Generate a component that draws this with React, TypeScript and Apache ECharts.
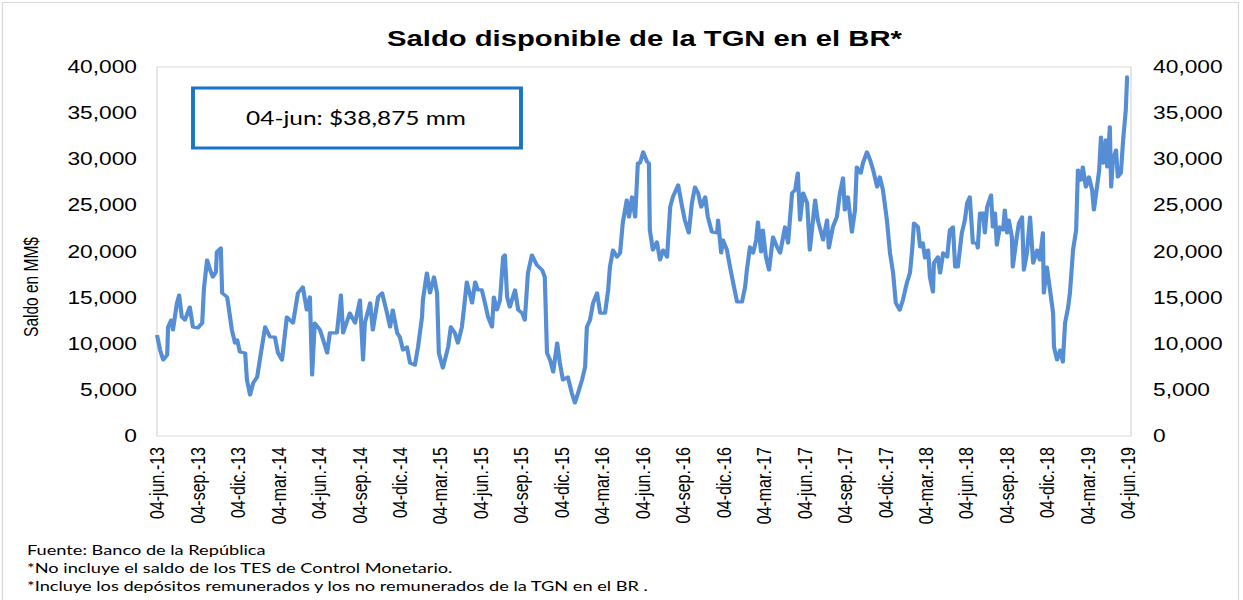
import React, { useEffect, useRef } from "react";
import * as echarts from "echarts";

// ---------- data ----------
const START_DATE = "2013-06-04"; // day 0 of dayOffsets
const TOTAL_DAYS = 2191; // 2013-06-04 .. 2019-06-04

const quarterLabels = [
  "04-jun.-13", "04-sep.-13", "04-dic.-13", "04-mar.-14", "04-jun.-14",
  "04-sep.-14", "04-dic.-14", "04-mar.-15", "04-jun.-15", "04-sep.-15",
  "04-dic.-15", "04-mar.-16", "04-jun.-16", "04-sep.-16", "04-dic.-16",
  "04-mar.-17", "04-jun.-17", "04-sep.-17", "04-dic.-17", "04-mar.-18",
  "04-jun.-18", "04-sep.-18", "04-dic.-18", "04-mar.-19", "04-jun.-19",
];

const dayOffsets = [
  0, 7, 14, 23, 25, 32, 36, 45, 50, 56, 63, 74, 81, 92, 102, 106, 113, 120, 126, 133,
  135, 144, 147, 158, 160, 169, 176, 181, 187, 199, 203, 210, 217, 226, 232, 244, 255, 266, 273, 282,
  293, 307, 318, 329, 338, 345, 350, 356, 368, 375, 384, 390, 406, 415, 420, 435, 447, 458, 465, 469,
  481, 487, 499, 508, 519, 526, 532, 542, 548, 555, 564, 571, 582, 589, 598, 600, 609, 616, 625, 632,
  636, 645, 657, 663, 672, 679, 688, 693, 699, 711, 718, 724, 733, 740, 747, 756, 760, 767, 774, 781,
  785, 790, 796, 808, 815, 824, 830, 837, 846, 857, 869, 875, 880, 887, 894, 903, 909, 916, 927, 936,
  943, 950, 959, 966, 970, 977, 984, 993, 1000, 1011, 1018, 1022, 1029, 1038, 1045, 1051, 1060, 1065, 1072, 1079,
  1085, 1090, 1097, 1106, 1110, 1112, 1119, 1128, 1135, 1142, 1151, 1158, 1164, 1176, 1185, 1191, 1200, 1207, 1214, 1221,
  1228, 1237, 1243, 1252, 1264, 1266, 1273, 1277, 1286, 1293, 1302, 1309, 1320, 1327, 1331, 1338, 1345, 1352, 1356, 1363,
  1367, 1374, 1381, 1390, 1399, 1406, 1417, 1424, 1433, 1440, 1446, 1451, 1458, 1467, 1473, 1485, 1491, 1503, 1512, 1516,
  1525, 1534, 1541, 1548, 1552, 1559, 1568, 1575, 1579, 1588, 1593, 1602, 1609, 1616, 1625, 1631, 1638, 1647, 1654, 1661,
  1667, 1676, 1683, 1692, 1699, 1704, 1708, 1717, 1722, 1728, 1733, 1740, 1744, 1751, 1753, 1762, 1767, 1774, 1783, 1789,
  1796, 1801, 1807, 1816, 1823, 1828, 1834, 1841, 1850, 1852, 1857, 1864, 1868, 1873, 1882, 1886, 1891, 1895, 1902, 1909,
  1913, 1918, 1922, 1929, 1931, 1940, 1945, 1952, 1956, 1963, 1970, 1977, 1986, 1992, 1999, 2001, 2008, 2015, 2022, 2024,
  2031, 2038, 2044, 2049, 2056, 2060, 2067, 2074, 2078, 2085, 2089, 2096, 2103, 2110, 2114, 2121, 2126, 2130, 2135, 2141,
  2144, 2150, 2153, 2157, 2164, 2168, 2175, 2180, 2186, 2189, 2191,
];

const saldo = [
  10950, 9320, 8240, 8780, 11820, 12570, 11490, 14420, 15280, 12900, 12570, 13980, 11820, 11710, 12250, 16040, 19080, 17990, 17240, 17780,
  19950, 20380, 15500, 15070, 14530, 11490, 10080, 10410, 9110, 9000, 6070, 4440, 5750, 6400, 8240, 11820, 10730, 10730, 9000, 8240,
  12900, 12250, 15500, 16150, 13660, 15070, 6610, 12250, 11490, 10410, 9000, 11170, 11170, 15280, 11170, 13330, 12250, 14740, 8240, 12250,
  14420, 11490, 15070, 15500, 13330, 11820, 13660, 11170, 10730, 9320, 9650, 7910, 7700, 9650, 12900, 14740, 17670, 15500, 17240, 15500,
  9000, 7370, 9650, 11820, 11170, 10080, 11820, 13980, 16690, 14420, 16690, 15830, 15830, 14420, 12900, 11820, 15070, 13660, 14740, 19400,
  19620, 15070, 13980, 15830, 13660, 13330, 12570, 17670, 19620, 18540, 17990, 17240, 9000, 8240, 6940, 10080, 7910, 6070, 6400, 4660,
  3580, 4660, 6070, 7480, 11820, 12570, 14420, 15500, 13330, 13330, 15830, 18320, 20160, 19400, 19840, 23090, 25580, 23740, 25910, 23740,
  29590, 29590, 30790, 29700, 29590, 22330, 20160, 21030, 19080, 20160, 19400, 24820, 25910, 27210, 24820, 23410, 22010, 25260, 26990, 26340,
  24820, 25910, 23740, 22110, 22010, 23410, 19840, 21250, 20160, 18320, 16150, 14530, 14530, 16150, 17990, 20490, 19840, 21250, 23200, 19950,
  22330, 19400, 17990, 21570, 20490, 19840, 22660, 20920, 26340, 26670, 28510, 23410, 26340, 25260, 20160, 25580, 23410, 21250, 23410, 20380,
  22660, 23740, 26340, 27970, 24500, 25910, 22110, 24500, 29160, 28510, 29590, 30790, 29920, 28830, 26990, 28080, 26670, 23410, 19840, 17670,
  14420, 13660, 14740, 16590, 17670, 20160, 23090, 22660, 20490, 20920, 19300, 20160, 17240, 15610, 18750, 19400, 17670, 19840, 19400, 22330,
  22660, 18320, 18320, 22010, 23410, 25260, 25910, 20920, 20920, 20380, 24170, 24170, 22010, 24820, 26120, 22660, 24170, 20700, 22660, 22330,
  24500, 22010, 23410, 21570, 18320, 21570, 23090, 23740, 17990, 19840, 23740, 18750, 20160, 19080, 22010, 15500, 18320, 15830, 13330, 9650,
  8240, 9320, 8020, 12250, 13980, 15500, 20160, 22330, 28830, 27750, 29160, 26990, 28080, 26670, 24500, 26990, 28830, 32410, 29590, 32090,
  29160, 33500, 26990, 29920, 31000, 28080, 28510, 32090, 35340, 38920, 38875,
];

const yMin = 0;
const yMax = 40000;
const yStep = 5000;

const chartTitle = "Saldo disponible de la TGN en el BR*";
const yAxisTitle = "Saldo en MM$";
const calloutText = "04-jun: $38,875 mm";
const footnotes = [
  "Fuente: Banco de la República",
  "*No incluye el saldo de los TES de Control Monetario.",
  "*Incluye los depósitos remunerados y los no remunerados de la TGN en el BR .",
];

// ---------- layout ----------
const SX = 1.3; // the reference is rendered horizontally stretched
const W = 1243 / SX;
const H = 600;
const px = (x: number) => x / SX;

const ARIAL = "'Liberation Sans', Arial, sans-serif";
const CALIBRI = "Lato, 'Open Sans', sans-serif";

const fmt = (v: number) => v.toLocaleString("en-US");

export default function App() {
  const ref = useRef<HTMLDivElement>(null);

  useEffect(() => {
    if (!ref.current) return;
    const chart = echarts.init(ref.current, undefined, { renderer: "svg" });
    const step = TOTAL_DAYS / (quarterLabels.length - 1);
    const plotLeft = 157;
    const plotRight = 1131;
    const lastTickX = 1128;
    const xMax = ((plotRight - plotLeft) / (lastTickX - plotLeft)) * TOTAL_DAYS;

    const yAxisCommon = {
      type: "value" as const,
      min: yMin,
      max: yMax,
      interval: yStep,
      axisLine: { show: false },
      axisTick: { show: false },
      splitLine: { show: false },
    };

    chart.setOption({
      animation: false,
      backgroundColor: "#ffffff",
      grid: {
        left: px(plotLeft),
        top: 67,
        width: px(plotRight - plotLeft),
        height: 369,
        show: true,
        borderColor: "#D9D9D9",
        borderWidth: 1,
        backgroundColor: "transparent",
      },
      xAxis: {
        type: "value",
        min: 0,
        max: xMax,
        interval: step,
        axisLine: { show: false },
        axisTick: { show: false },
        splitLine: { show: false },
        axisLabel: {
          rotate: 90,
          margin: 11,
          fontSize: 16,
          fontFamily: ARIAL,
          color: "#000000",
          formatter: (v: number) => {
            const i = Math.round(v / step);
            return Math.abs(v - i * step) < 1 && quarterLabels[i] ? quarterLabels[i] : "";
          },
        },
      },
      yAxis: [
        {
          ...yAxisCommon,
          position: "left",
          axisLabel: { margin: 15.4, fontSize: 17.5, fontFamily: ARIAL, color: "#000000", formatter: fmt },
        },
        {
          ...yAxisCommon,
          position: "right",
          axisLabel: { margin: 17, fontSize: 17.5, fontFamily: ARIAL, color: "#000000", formatter: fmt },
        },
      ],
      series: [
        {
          type: "line",
          name: START_DATE,
          yAxisIndex: 0,
          data: dayOffsets.map((d, i) => [d, saldo[i]]),
          showSymbol: false,
          symbol: "none",
          lineStyle: { color: "#558ED5", width: 3.2, join: "round" },
          itemStyle: { color: "#558ED5" },
          silent: true,
        },
      ],
      graphic: [
        {
          type: "rect",
          z: -1,
          shape: { x: px(2.5), y: 2.5, width: px(1236), height: 700 },
          style: { fill: "none", stroke: "#D9D9D9", lineWidth: 1 },
          silent: true,
        },
        {
          type: "text",
          x: px(644.5),
          y: 38,
          style: {
            text: chartTitle,
            fontFamily: ARIAL,
            fontWeight: "bold",
            fontSize: 22.5,
            fill: "#000000",
            textAlign: "center",
            textVerticalAlign: "middle",
          },
        },
        {
          type: "text",
          x: px(31),
          y: 287,
          rotation: Math.PI / 2,
          style: {
            text: yAxisTitle,
            fontFamily: ARIAL,
            fontSize: 15.5,
            fill: "#000000",
            textAlign: "center",
            textVerticalAlign: "middle",
          },
        },
        {
          type: "rect",
          shape: { x: px(193), y: 88, width: px(328), height: 60 },
          style: { fill: "#ffffff", stroke: "#1874C6", lineWidth: 3 },
        },
        {
          type: "text",
          x: px(356),
          y: 118,
          style: {
            text: calloutText,
            fontFamily: CALIBRI,
            fontSize: 18.8,
            fill: "#000000",
            textAlign: "center",
            textVerticalAlign: "middle",
          },
        },
        ...footnotes.map((t, i) => ({
          type: "text",
          x: px(27),
          y: 549 + i * 18,
          style: {
            text: t,
            fontFamily: CALIBRI,
            fontSize: 14,
            fill: "#000000",
            textAlign: "left",
            textVerticalAlign: "middle",
          },
        })),
      ],
    });
    return () => chart.dispose();
  }, []);

  return (
    <div
      style={{
        position: "fixed",
        left: 0,
        top: 0,
        width: 1243,
        height: H,
        overflow: "hidden",
        background: "#ffffff",
      }}
    >
      <div
        ref={ref}
        style={{
          width: W,
          height: H,
          transform: `scaleX(${SX})`,
          transformOrigin: "0 0",
        }}
      />
    </div>
  );
}
